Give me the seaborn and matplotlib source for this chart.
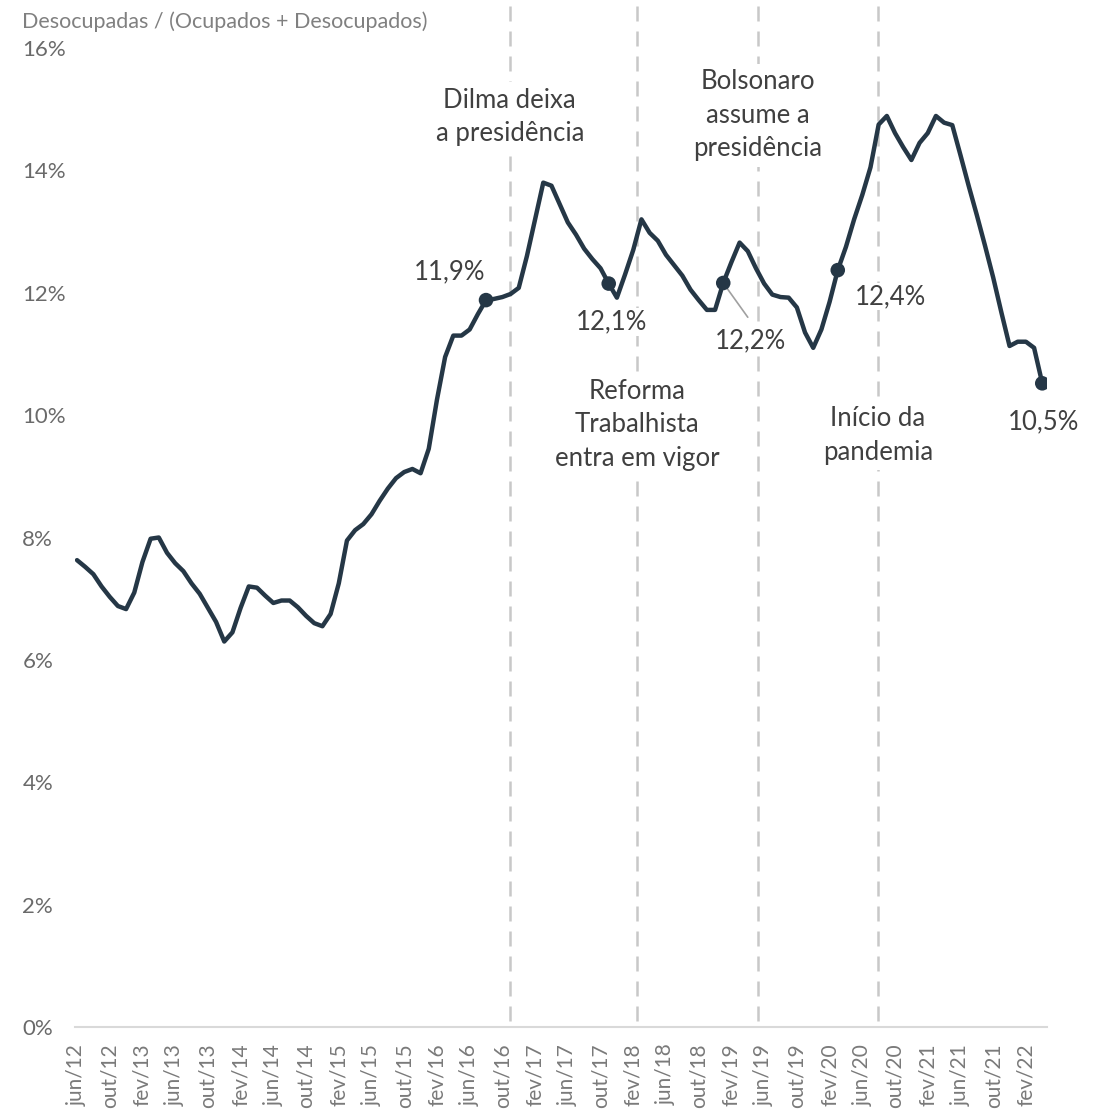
import pandas as pd
import seaborn as sns
import matplotlib.pyplot as plt

# Taxa de desocupacao, PNAD continua (trimestre movel), jun/12 .. abr/22
month_idx = list(range(119))
rate = [
    7.63, 7.52, 7.40, 7.20, 7.03, 6.88, 6.83, 7.10, 7.60, 7.98,   # jun/12 - mar/13
    8.00, 7.75, 7.58, 7.45, 7.25, 7.08, 6.85, 6.62, 6.30, 6.45,   # abr/13 - jan/14
    6.85, 7.20, 7.18, 7.05, 6.93, 6.97, 6.97, 6.86, 6.72, 6.60,   # fev/14 - nov/14
    6.55, 6.75, 7.25, 7.95, 8.12, 8.22, 8.38, 8.60, 8.80, 8.97,   # dez/14 - set/15
    9.07, 9.12, 9.05, 9.45, 10.25, 10.95, 11.30, 11.30, 11.40, 11.65,  # out/15 - jul/16
    11.88, 11.90, 11.93, 11.98, 12.08, 12.60, 13.20, 13.80, 13.75, 13.45,  # ago/16 - mai/17
    13.15, 12.95, 12.72, 12.55, 12.40, 12.15, 11.92, 12.30, 12.70, 13.20,  # jun/17 - mar/18
    12.98, 12.85, 12.62, 12.45, 12.28, 12.05, 11.88, 11.72, 11.72, 12.16,  # abr/18 - jan/19
    12.50, 12.82, 12.68, 12.40, 12.15, 11.97, 11.93, 11.92, 11.76, 11.35,  # fev/19 - nov/19
    11.10, 11.40, 11.85, 12.37, 12.75, 13.20, 13.60, 14.05, 14.75, 14.89,  # dez/19 - set/20
    14.61, 14.38, 14.17, 14.45, 14.61, 14.89, 14.78, 14.74, 14.25, 13.75,  # out/20 - jul/21
    13.27, 12.77, 12.25, 11.68, 11.13, 11.20, 11.20, 11.10, 10.52,         # ago/21 - abr/22
]

tick_pos = list(range(0, 117, 4))
tick_labels = [
    "jun/12", "out/12", "fev/13", "jun/13", "out/13", "fev/14", "jun/14", "out/14",
    "fev/15", "jun/15", "out/15", "fev/16", "jun/16", "out/16", "fev/17", "jun/17",
    "out/17", "fev/18", "jun/18", "out/18", "fev/19", "jun/19", "out/19", "fev/20",
    "jun/20", "out/20", "fev/21", "jun/21", "out/21", "fev/22",
]

highlight_idx = [50, 65, 79, 93, 118]
highlight_txt = ["11,9%", "12,1%", "12,2%", "12,4%", "10,5%"]
highlight_xy = [(45.6, 12.34), (65.4, 11.52), (82.3, 11.21), (99.4, 11.94), (118.1, 9.89)]

events = [
    "Dilma deixa\na presidência",
    "Reforma\nTrabalhista\nentra em vigor",
    "Bolsonaro\nassume a\npresidência",
    "Início da\npandemia",
]
event_pos = [52.9, 68.5, 83.2, 97.9]
event_text_y = [14.87, 9.84, 14.90, 9.67]

LINE = "#253746"
TXT = "#404040"
GRID = "#c8c8c8"

df = pd.DataFrame({"m": month_idx, "rate": rate})

sns.set_theme(style="white")
plt.rcParams["font.family"] = ["Lato", "DejaVu Sans"]

fig = plt.figure(figsize=(11.02, 11.17), dpi=100)
ax = fig.add_axes([0.0681, 0.0806, 0.882, 0.8764])

# linhas verticais dos eventos
for p in event_pos:
    ax.plot([p, p], [0.1, 16.8], color=GRID, lw=1.8, ls=(0, (6, 4)),
            clip_on=False, zorder=1)

sns.lineplot(data=df, x="m", y="rate", color=LINE, lw=3.2, ax=ax, zorder=3,
             solid_capstyle="round", solid_joinstyle="round")

pts = df.iloc[highlight_idx]
sns.scatterplot(data=pts, x="m", y="rate", color=LINE, s=110, ax=ax,
                zorder=4, edgecolor="none")

for (tx, ty), t in zip(highlight_xy, highlight_txt):
    ax.text(tx, ty, t, ha="center", va="center", fontsize=18.5, color=TXT,
            zorder=5, bbox=dict(facecolor="white", edgecolor="none", pad=1))

# linha guia do 12,2%
ax.plot([79, 82.0], [12.16, 11.60], color="#a0a0a0", lw=1.2, zorder=2)

for p, y, t in zip(event_pos, event_text_y, events):
    ax.text(p, y, t, ha="center", va="center", fontsize=18.5, color=TXT,
            linespacing=1.42, zorder=5,
            bbox=dict(facecolor="white", edgecolor="none", pad=4))

ax.set_xlim(-0.24, 118.58)
ax.set_ylim(0, 16)
ax.set_yticks(range(0, 17, 2))
ax.set_yticklabels([f"{v}%" for v in range(0, 17, 2)])
ax.set_xticks(tick_pos)
ax.set_xticklabels(tick_labels, rotation=90)
ax.set_xlabel("")
ax.set_ylabel("")

for s in ["top", "right", "left"]:
    ax.spines[s].set_visible(False)
ax.spines["bottom"].set_color("#d9d9d9")
ax.spines["bottom"].set_linewidth(1.5)

ax.tick_params(axis="x", length=0, pad=12, labelsize=15, labelcolor="#7a7a7a")
ax.tick_params(axis="y", length=0, pad=38, labelsize=16, labelcolor="#6a6a6a")
for lab in ax.get_yticklabels():
    lab.set_horizontalalignment("left")

fig.text(22 / 1102, 1 - 22 / 1117, "Desocupadas / (Ocupados + Desocupados)",
         ha="left", va="center", fontsize=15.5, color="#808080")

fig.savefig("out.png", dpi=100, facecolor="white")
